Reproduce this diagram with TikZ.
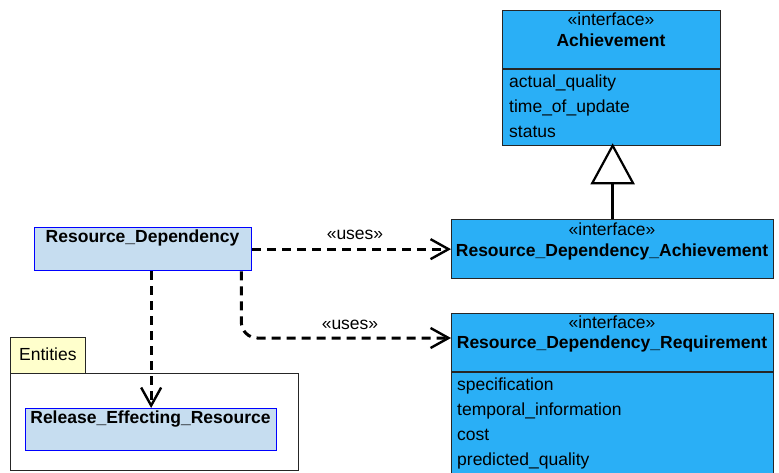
\documentclass[tikz,border=0pt]{standalone}
\usepackage{fontspec}
\setmainfont{Liberation Sans}
\usepackage{tikz}
\usetikzlibrary{arrows.meta}
\definecolor{ifaceblue}{HTML}{2AAFF6}
\definecolor{classblue}{HTML}{C6DDF0}
\definecolor{pkgyellow}{HTML}{FFFFCC}

\begin{document}
\begin{tikzpicture}[x=1pt,y=-1pt,font=\fontsize{17.5}{20}\selectfont]
	\tikzstyle{Iface}   = [draw=black!85, fill=ifaceblue, line width=1.3pt, anchor=north west, inner sep=0pt]
	\tikzstyle{Cls}     = [draw=blue, fill=classblue, line width=1.3pt, anchor=north west, inner sep=0pt]
	\tikzstyle{Pkg}     = [draw=black!85, line width=1.3pt, anchor=north west, inner sep=0pt]
	\tikzstyle{Txt}     = [anchor=base, inner sep=0pt]
	\tikzstyle{Attr}    = [anchor=base west, inner sep=0pt]
	\tikzstyle{Uses}    = [line width=3pt, dash pattern=on 9pt off 6pt, rounded corners=16pt,
	                       -{Straight Barb[length=18pt,width=20pt,line width=2.4pt]}]
	\tikzstyle{Inherit} = [line width=2.4pt, shorten >=-3pt,
	                       -{Triangle[open,length=41pt,width=44pt,line width=2.2pt,fill=white]}]
	\useasboundingbox (0,0) rectangle (779,473);

	% interfaces
	\node[Iface, minimum width=218, minimum height=135] (ach) at (502,10) {};
	\draw[line width=1.3pt, black!85] (ach.west |- 0,69) -- (ach.east |- 0,69);
	\node[Txt] (achst) at (611,26) {«interface»};
	\node[Txt] (achnm) at (611,47) {\bfseries Achievement};
	\node[Attr] (achA) at (509,88) {actual\_quality};
	\node[Attr] (achB) at (509,113) {time\_of\_update};
	\node[Attr] (achC) at (509,138) {status};

	\node[Iface, minimum width=322, minimum height=59] (rda) at (451,219) {};
	\node[Txt] (rdast) at (612,236) {«interface»};
	\node[Txt] (rdanm) at (612,256) {\bfseries Resource\_Dependency\_Achievement};

	\node[Iface, minimum width=322, minimum height=162] (rdr) at (451,313) {};
	\draw[line width=1.3pt, black!85] (rdr.west |- 0,372) -- (rdr.east |- 0,372);
	\node[Txt] (rdrst) at (612,328) {«interface»};
	\node[Txt] (rdrnm) at (612,348) {\bfseries Resource\_Dependency\_Requirement};
	\node[Attr] (rdrA) at (457,390) {specification};
	\node[Attr] (rdrB) at (457,415) {temporal\_information};
	\node[Attr] (rdrC) at (457,440) {cost};
	\node[Attr] (rdrD) at (457,465) {predicted\_quality};

	% classes
	\node[Cls, minimum width=217, minimum height=43] (rd) at (34,227) {};
	\node[Txt] (rdnm) at (142.5,243) {\bfseries Resource\_Dependency};

	% package Entities
	\node[Pkg, fill=pkgyellow, minimum width=75, minimum height=36] (enttab) at (10,337) {};
	\node[Attr] (entnm) at (19,360) {Entities};
	\node[Pkg, minimum width=288, minimum height=97] (ent) at (10,373) {};
	\node[Cls, minimum width=251, minimum height=42] (rel) at (25,408) {};
	\node[Txt] (relnm) at (150.5,423) {\bfseries Release\_Effecting\_Resource};

	% dependencies
	\draw[Uses] (rd.east) -- (rda.west);
	\node[Txt] (uses1) at (355,240) {«uses»};
	\draw[Uses] ([xshift=-11pt]rd.south east) |- ([yshift=-25pt]rdr.north west);
	\node[Txt] (uses2) at (350,329) {«uses»};
	\draw[Uses] (rel.north |- rd.south) -- (rel.north);

	% generalisation
	\draw[Inherit] (rda.north) -- (rda.north |- ach.south);
\end{tikzpicture}
\end{document}
